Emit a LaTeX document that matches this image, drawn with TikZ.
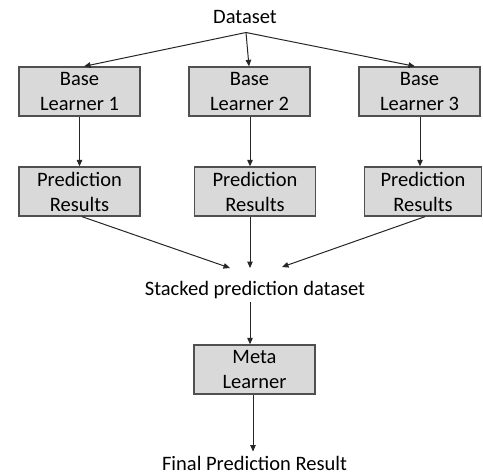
\documentclass[tikz,border=0pt]{standalone}
\usepackage{fontspec}
\setmainfont{Carlito}
\usetikzlibrary{arrows.meta,calc}
\definecolor{boxfill}{HTML}{D9D9D9}
\definecolor{boxline}{HTML}{505050}
\definecolor{wire}{HTML}{262626}
\begin{document}
\begin{tikzpicture}[x=1pt,y=-1pt,
  font=\fontsize{20.5}{25}\selectfont,
  learner/.style={draw=boxline,line width=1.3pt,fill=boxfill,rectangle,
    minimum height=49pt,inner sep=0pt,align=center,text=black},
  label/.style={inner sep=0pt,anchor=base,text=black},
  flow/.style={draw=wire,line width=1pt,-{Triangle[length=6.5pt,width=5.5pt]}}]
\useasboundingbox (0,0) rectangle (483,475);

% inputs and outputs as plain text
\node[label] (ds) at (245,23.5) {Dataset};
\node[label] (stack) at (255,295) {Stacked prediction dataset};
\node[label] (final) at (254.5,470) {Final Prediction Result};

% base learners
\node[learner,minimum width=121pt] (b1) at (79.5,91.5) {Base\\Learner 1};
\node[learner,minimum width=121pt] (b2) at (249.5,91.5) {Base\\Learner 2};
\node[learner,minimum width=121pt] (b3) at (419.5,91.5) {Base\\Learner 3};

% prediction results
\node[learner,minimum width=121pt] (p1) at (79.5,191.5) {Prediction\\Results};
\node[learner,minimum width=121pt] (p2) at (255,191.5) {Prediction\\Results};
\node[learner,minimum width=117pt] (p3) at (423,191.5) {Prediction\\Results};

% meta learner
\node[learner,minimum width=121pt] (meta) at (254.5,369.5) {Meta\\Learner};

% fan-out from the dataset
\coordinate (fan) at (246,32.5);
\draw[flow] (fan) -- ($(b1.north)+(4.5,0)$);
\draw[flow] (fan) -- ($(b2.north)+(-0.5,0)$);
\draw[flow] (fan) -- ($(b3.north)+(-4.5,0)$);

% each learner feeds its predictions
\draw[flow] (b1.south) -- (b1.south |- p1.north);
\draw[flow] ($(b2.south)+(0.5,0)$) -- ($(b2.south |- p2.north)+(0.5,0)$);
\draw[flow] ($(b3.south)+(0.5,0)$) -- ($(b3.south |- p3.north)+(0.5,0)$);

% predictions gathered into the stacked set
\coordinate (sl) at (230,268);
\coordinate (sm) at (250,268);
\coordinate (sr) at (282,267);
\draw[flow] ($(p1.south)+(2.5,0)$) -- (sl);
\draw[flow] ($(p2.south)+(-5,0)$) -- (sm);
\draw[flow] ($(p3.south)+(2,0)$) -- (sr);

% meta stage
\coordinate (stackout) at (250,302);
\draw[flow] (stackout) -- (stackout |- meta.north);
\coordinate (finalin) at (253,451.5);
\draw[flow] (finalin |- meta.south) -- (finalin);
\end{tikzpicture}
\end{document}
